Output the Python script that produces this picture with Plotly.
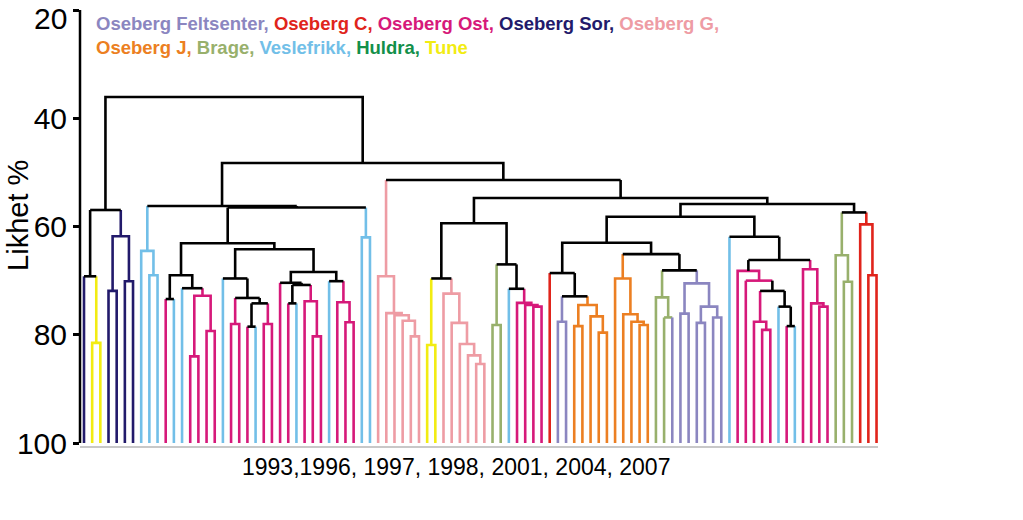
import plotly.graph_objects as go

# ---------------- data ----------------
group_codes = ["F", "C", "O", "S", "G", "J", "B", "V", "H", "T"]
group_names = ["Oseberg Feltsenter", "Oseberg C", "Oseberg Ost", "Oseberg Sor", "Oseberg G",
               "Oseberg J", "Brage", "Veslefrikk", "Huldra", "Tune"]
group_colors = ["#8b86c0", "#e0241b", "#d6197a", "#221a6b", "#ee9ca4",
                "#ec7f22", "#98b06c", "#72bfe8", "#13904a", "#f2ec12"]

# group of each leaf, left to right (98 samples)
leaf_groups = ("S T T S S S S V V V O V V O O O O V O O O V O O O O V O O O V O O O V V "
               "G G G G G G T T G G G G G G B B V O O O O C F F "
               "J J J J J J J J J J B B F F F F F F F V O O O O O V O V O O O O "
               "B B B C C C").split()

# merges: [similarity %, left, right, (bar colour), (stem colour)]; ints are leaf indices
left_group = [56.95, [69.2, 0, [81.5, 1, 2]], [61.8, [71.9, 3, 4], [70.1, 5, 6]]]
vesle_left = [64.5, 7, [69.0, 8, 9]]
ost_a = [69.0, [73.4, 10, 11], [71.4, 12, [72.8, [84.0, 13, 14], [79.3, 15, 16]]]]
ost_b = [69.6, 17, [73.2, [78.0, 18, 19], [74.2, [78.5, 20, 21], [78.0, 22, 23]]]]
ost_c = [68.4, [70.4, 24, [70.8, [74.2, 25, 26], [73.8, 27, [80.3, 28, 29]]]],
         [70.1, 30, [74.0, 31, [77.7, 32, 33]]]]
ost_bc = [64.2, ost_b, ost_c]
ost_all = [63.1, ost_a, ost_bc]
m1 = [56.5, ost_all, [62.0, 34, 35]]
m2 = [56.2, vesle_left, m1]

pink_a = [69.2, 36, [76.0, 37, [76.4, 38, [77.4, 39, [80.3, 40, 41]]]]]
tune_pink = [69.6, [81.9, 42, 43], [72.4, 44, [77.8, 45, [81.7, 46, [83.8, 47, [85.4, 48, 49]]]]]]
brage_ost = [67.0, [78.2, 50, 51], [71.5, 52, [74.1, 53, [74.5, 54, [74.8, 55, 56]]]]]
q = [59.4, tune_pink, brage_ost]
r1 = [68.6, 57, [72.9, [77.6, 58, 59], [74.5, [78.4, 60, 61], [76.6, 62, [79.6, 63, 64]]]]]
r2 = [65.1, [69.6, 65, [76.2, 66, [77.6, 67, [78.2, 68, 69]]]],
      [68.1, [73.1, 70, [76.8, 71, 72, "B", "B"]],
       [70.5, [76.1, 73, 74], [74.8, [77.8, 75, 76], [76.8, 77, 78]]]]]
r = [63.0, r1, r2]
s1 = [61.9, 79, [66.2, [68.2, 80, [70.0, 81, [71.9, [77.6, 82, [79.1, 83, 84]],
                                            [74.8, 85, [78.4, 86, 87]]], "O", "O"], "O", "K"],
                 [67.9, 88, [74.2, 89, [74.8, 90, 91]]]]]
s2 = [57.4, [65.3, 92, [70.2, 93, 94]], [59.6, 95, [69.0, 96, 97]]]
t = [55.84, [58.2, r, s1], s2]
u = [54.73, q, t]
v = [51.41, pink_a, u]
w = [48.27, m2, v]
tree = [36.07, left_group, w]

y_ticks = [20, 40, 60, 80, 100]
y_title = "Likhet %"
x_label = "1993,1996, 1997, 1998, 2001, 2004, 2007"

# ---------------- build segments ----------------
color_of = dict(zip(group_codes, group_colors))
color_of["K"] = "#000000"
segs = {}


def add(code, xs, ys):
    d = segs.setdefault(code, ([], []))
    d[0].extend(xs + [None])
    d[1].extend(ys + [None])


def walk(node):
    if isinstance(node, int):
        return float(node), 100.0, leaf_groups[node]
    h, a, b = node[0], node[1], node[2]
    xa, ha, ca = walk(a)
    xb, hb, cb = walk(b)
    auto = ca if ca == cb else "K"
    bar = node[3] if len(node) > 3 else auto
    stem = node[4] if len(node) > 4 else auto
    if ca == bar == cb:
        add(bar, [xa, xa, xb, xb], [ha, h, h, hb])
    else:
        add(ca, [xa, xa], [ha, h])
        add(cb, [xb, xb], [hb, h])
        add(bar, [xa, xb], [h, h])
    return (xa + xb) / 2, h, stem


walk(tree)

fig = go.Figure()
order = [c for c in segs if c != "K"] + (["K"] if "K" in segs else [])
for code in order:
    xs, ys = segs[code]
    fig.add_trace(go.Scatter(x=xs, y=ys, mode="lines",
                             line=dict(color=color_of[code], width=2.6),
                             hoverinfo="skip", showlegend=False))

FONT = "Liberation Sans, Arial, sans-serif"

# plot area at x 80..878, y 10..446 of the page (body margin removed below)
fig.update_layout(
    width=1023, height=520,
    margin=dict(l=80, r=145, t=10, b=74),
    plot_bgcolor="white", paper_bgcolor="white",
    showlegend=False,
)
fig.update_xaxes(range=[-0.49, 97.18], showgrid=False, zeroline=False,
                 showticklabels=False, ticks="", showline=True,
                 linecolor="#c8c8c8", linewidth=1.5, automargin=False)
fig.update_yaxes(range=[100.55, 20], tickvals=y_ticks,
                 ticktext=["" if v_ == 20 else str(v_) for v_ in y_ticks],
                 ticks="outside", ticklen=6, tickwidth=2.5, tickcolor="black",
                 showgrid=False, zeroline=False, showline=False, automargin=False,
                 tickfont=dict(family=FONT, size=30, color="black"))

# y axis line
fig.add_shape(type="line", xref="paper", yref="y", x0=0, x1=0, y0=20, y1=100,
              line=dict(color="black", width=2.5))

# "20" label, anchored to the top edge of the figure
fig.add_annotation(text="20", xref="paper", yref="paper", x=-0.0138, y=1.0229,
                   xanchor="right", yanchor="top", showarrow=False,
                   font=dict(family=FONT, size=30, color="black"))

# y title
fig.add_annotation(text=y_title, xref="paper", yref="paper", x=-0.0777, y=0.53,
                   xanchor="center", yanchor="middle", textangle=-90, showarrow=False,
                   font=dict(family=FONT, size=29, color="black"))

# x label
fig.add_annotation(text=x_label, xref="paper", yref="paper", x=0.4708, y=-0.048,
                   xanchor="center", yanchor="middle", showarrow=False,
                   font=dict(family=FONT, size=23, color="black"))

# coloured group list
def span(i, comma=True):
    return '<span style="color:%s">%s%s</span>' % (group_colors[i], group_names[i], "," if comma else "")

line1 = " ".join(span(i) for i in range(5))
line2 = " ".join(span(i, i < 9) for i in range(5, 10))
fig.add_annotation(text="<b>" + line1 + "</b>", xref="paper", yref="paper",
                   x=0.0175, y=0.968, xanchor="left", yanchor="middle", showarrow=False,
                   font=dict(family=FONT, size=18.5))
fig.add_annotation(text="<b>" + line2 + "</b>", xref="paper", yref="paper",
                   x=0.0175, y=0.913, xanchor="left", yanchor="middle", showarrow=False,
                   font=dict(family=FONT, size=18.5))

fig.write_html("out.html",
               config={"displayModeBar": False},
               post_script="document.body.style.margin='0';document.body.style.overflow='hidden';")
